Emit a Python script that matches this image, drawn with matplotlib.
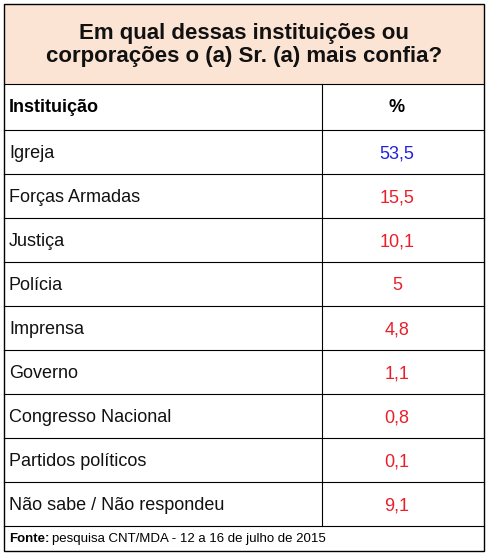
import matplotlib
matplotlib.use("Agg")
import matplotlib.pyplot as plt
from matplotlib.patches import Rectangle

title = "Em qual dessas instituições ou\ncorporações o (a) Sr. (a) mais confia?"
header = ["Instituição", "%"]
instituicoes = ["Igreja", "Forças Armadas", "Justiça", "Polícia", "Imprensa",
                "Governo", "Congresso Nacional", "Partidos políticos",
                "Não sabe / Não respondeu"]
valores = ["53,5", "15,5", "10,1", "5", "4,8", "1,1", "0,8", "0,1", "9,1"]
cores = ["#2222dd"] + ["#e8202a"] * 8
fonte_b = "Fonte:"
fonte = "pesquisa CNT/MDA - 12 a 16 de julho de 2015"

plt.rcParams['font.family'] = ['Liberation Sans', 'DejaVu Sans']
W, H = 488, 556
fig = plt.figure(figsize=(W/100, H/100), dpi=100)
ax = fig.add_axes([0, 0, 1, 1])
ax.set_xlim(0, W); ax.set_ylim(H, 0); ax.axis('off')

L, R, T, B = 4, 484, 4, 551
colx = 322
ax.add_patch(Rectangle((L, T), R-L, 80, facecolor="#fce4d4", edgecolor="none"))
ax.text(W/2, 45, title, ha='center', va='center', fontsize=16, fontweight='bold',
        color='#111111', linespacing=1.15)

lines_y = [84, 130] + [130 + 44*(i+1) for i in range(len(instituicoes))]
for y in lines_y:
    ax.plot([L, R], [y, y], color='black', lw=0.8)
ax.plot([colx, colx], [84, lines_y[-1]], color='black', lw=0.8)
ax.add_patch(Rectangle((L, T), R-L, B-T, facecolor='none', edgecolor='black', lw=1))

ax.text(9, 108, header[0], ha='left', va='center', fontsize=13, fontweight='bold')
ax.text(397, 108, header[1], ha='center', va='center', fontsize=13, fontweight='bold')
for i, (n, v, c) in enumerate(zip(instituicoes, valores, cores)):
    y = 154 + 44*i
    ax.text(9, y, n, ha='left', va='center', fontsize=13, color='#111111')
    ax.text(397, y, v, ha='center', va='center', fontsize=13, color=c)

ax.text(9, 539, fonte_b, ha='left', va='center', fontsize=9.5, fontweight='bold')
ax.text(52, 539, fonte, ha='left', va='center', fontsize=9.5)
fig.savefig("out.png", dpi=100, facecolor='white')
